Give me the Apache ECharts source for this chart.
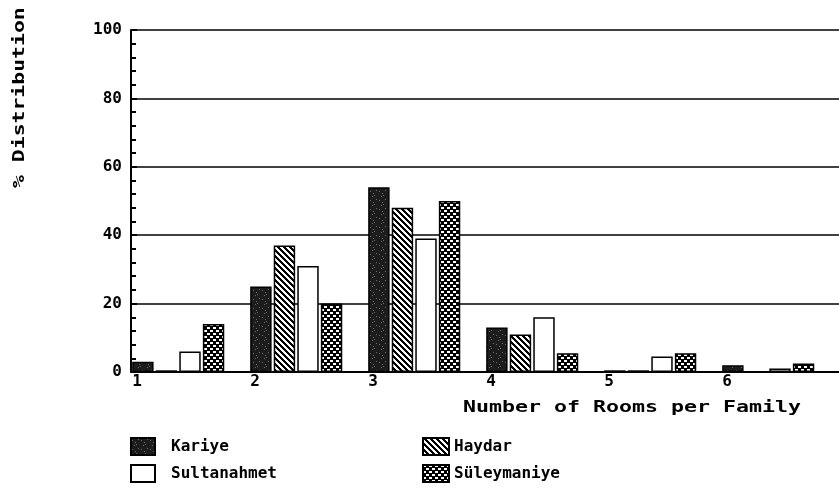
<!DOCTYPE html>
<html>
<head>
<meta charset="utf-8">
<script src="https://cdn.jsdelivr.net/npm/echarts@6/dist/echarts.min.js"></script>
<style>
  html, body { margin: 0; padding: 0; background: #fff; }
  #chart { width: 839px; height: 491px; }
</style>
</head>
<body>
<div id="chart"></div>
<script>
// 数据
const rooms = ["1", "2", "3", "4", "5", "6"];
const kariye = [3, 25, 54, 13, 0.5, 2];
const haydar = [0.5, 37, 48, 11, 0.5, 0];
const sultanahmet = [6, 31, 39, 16, 4.5, 1];
const suleymaniye = [14, 20, 50, 5.5, 5.5, 2.5];
const yTicks = [0, 20, 40, 60, 80, 100];

const FONT = "DejaVu Sans Mono";

// 填充图案
const makePattern = (kind) => {
  const n = kind === "dark" ? 9 : 6;
  const c = document.createElement("canvas");
  c.width = n;
  c.height = n;
  const ctx = c.getContext("2d");
  ctx.fillStyle = "#fff";
  ctx.fillRect(0, 0, n, n);
  if (kind === "dark") {
    ctx.fillStyle = "#1c1c1c";
    ctx.fillRect(0, 0, n, n);
    ctx.fillStyle = "#6a6a6a";
    [[1, 2], [5, 6], [7, 1], [3, 7], [4, 4]].forEach(([x, y]) => ctx.fillRect(x, y, 1, 1));
    return { image: c, repeat: "repeat" };
  }
  ctx.fillStyle = "#000";
  for (let y = 0; y < n; y++) {
    for (let x = 0; x < n; x++) {
      let black = false;
      if (kind === "stripe") {
        black = ((x - y + n) % n) < 3;
      } else if (kind === "check") {
        const white = (y < 2 && x < 3) || (y >= 3 && y < 5 && x >= 3);
        black = !white;
      }
      if (black) ctx.fillRect(x, y, 1, 1);
    }
  }
  return { image: c, repeat: "repeat" };
};

const barStyle = (fill) => ({
  color: fill,
  borderColor: "#000",
  borderWidth: 1.5,
});

const chart = echarts.init(document.getElementById("chart"));

const mkSeries = (name, data, fill) => ({
  name: name,
  type: "bar",
  data: data,
  barGap: "10%",
  barCategoryGap: "2%",
  itemStyle: barStyle(fill),
  animation: false,
});

chart.setOption({
  backgroundColor: "#fff",
  animation: false,
  textStyle: { fontFamily: FONT, fontWeight: "bold", color: "#000" },
  grid: { left: 131, top: 30, right: -10, bottom: 119 },
  legend: [
    {
      data: ["Kariye", "Sultanahmet"],
      orient: "vertical",
      icon: "rect",
      left: 125,
      top: 432,
      itemWidth: 24,
      itemHeight: 17,
      itemGap: 8,
      textStyle: { fontFamily: FONT, fontWeight: "bold", fontSize: 16, color: "#000", padding: [0, 0, 0, 11] },
    },
    {
      data: ["Haydar", "Süleymaniye"],
      orient: "vertical",
      icon: "rect",
      left: 417,
      top: 432,
      itemWidth: 26,
      itemHeight: 17,
      itemGap: 8,
      textStyle: { fontFamily: FONT, fontWeight: "bold", fontSize: 16, color: "#000" },
    },
  ],
  xAxis: {
    type: "category",
    data: rooms,
    axisLine: { lineStyle: { color: "#000", width: 2 } },
    axisTick: { show: false },
    axisLabel: {
      fontFamily: FONT,
      fontWeight: "bold",
      fontSize: 16,
      color: "#000",
      margin: 2,
      align: "right",
      padding: [0, 48, 0, 0],
    },
  },
  yAxis: {
    type: "value",
    min: 0,
    max: 100,
    interval: 20,
    axisLine: { show: true, lineStyle: { color: "#000", width: 2 } },
    axisTick: { show: true, inside: true, length: 6, lineStyle: { color: "#000", width: 2 } },
    minorTick: { show: true, splitNumber: 5, length: 5, lineStyle: { color: "#000", width: 2 } },
    splitLine: { show: true, lineStyle: { color: "#000", width: 1.5 } },
    axisLabel: {
      fontFamily: FONT,
      fontWeight: "bold",
      fontSize: 16,
      color: "#000",
      margin: 9,
      formatter: (v) => (yTicks.includes(v) ? String(v) : ""),
    },
  },
  graphic: [
    {
      type: "text",
      left: 463,
      top: 400,
      style: {
        text: "Number of Rooms per Family",
        font: "bold 16px " + FONT,
        fill: "#000",
      },
      scaleX: 1.35,
    },
    {
      type: "text",
      x: 12,
      y: 188,
      rotation: Math.PI / 2,
      style: {
        text: "% Distribution",
        font: "bold 16px " + FONT,
        fill: "#000",
        verticalAlign: "top",
      },
      scaleX: 1.34,
    },
  ],
  series: [
    mkSeries("Kariye", kariye, makePattern("dark")),
    mkSeries("Haydar", haydar, makePattern("stripe")),
    mkSeries("Sultanahmet", sultanahmet, "#fff"),
    mkSeries("Süleymaniye", suleymaniye, makePattern("check")),
    { name: "_pad", type: "bar", data: [], barGap: "10%", barCategoryGap: "2%" },
  ],
});
</script>
</body>
</html>
